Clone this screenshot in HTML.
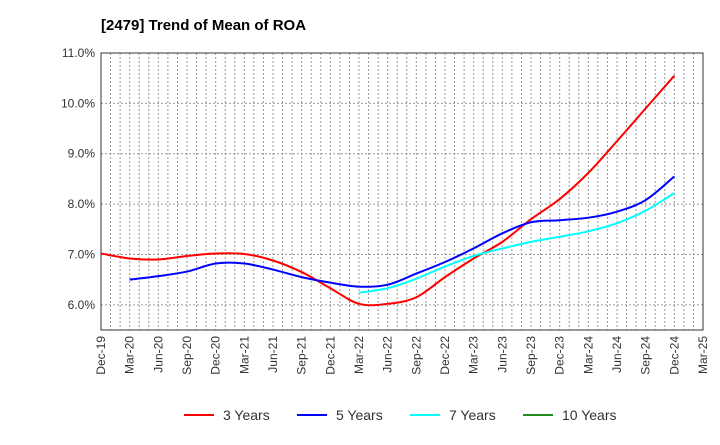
<!DOCTYPE html>
<html><head><meta charset="utf-8"><style>
body{margin:0;background:#fff;font-family:"Liberation Sans",sans-serif}
</style></head><body>
<svg id="c" width="720" height="440" xmlns="http://www.w3.org/2000/svg">
<text x="101" y="30" font-size="15" font-weight="bold" fill="#000">[2479]  Trend of Mean of ROA</text>
<g id="grid"></g>
<g id="axes"></g>
<g id="series"></g>
<g id="legend"></g>
</svg>
<script>
const xLabels=["Dec-19","Mar-20","Jun-20","Sep-20","Dec-20","Mar-21","Jun-21","Sep-21","Dec-21","Mar-22","Jun-22","Sep-22","Dec-22","Mar-23","Jun-23","Sep-23","Dec-23","Mar-24","Jun-24","Sep-24","Dec-24","Mar-25"];
const yTicks=[6,7,8,9,10,11];
const yTickLabels=["6.0%","7.0%","8.0%","9.0%","10.0%","11.0%"];
const seriesNames=["3 Years","5 Years","7 Years","10 Years"];
const seriesColors=["#ff0000","#0000ff","#00ffff","#228b22"];
const roa3=[7.02,6.92,6.90,6.97,7.02,7.01,6.88,6.65,6.33,6.02,6.02,6.15,6.55,6.92,7.25,7.70,8.10,8.62,9.25,9.90,10.55];
const roa5=[null,6.50,6.57,6.66,6.82,6.82,6.70,6.55,6.44,6.36,6.40,6.62,6.85,7.12,7.42,7.64,7.68,7.73,7.85,8.08,8.55];
const roa7=[null,null,null,null,null,null,null,null,null,6.24,6.33,6.52,6.76,6.97,7.12,7.25,7.35,7.46,7.62,7.87,8.22];
const roa10=[];
const L=101,R=703,T=53,B=330,yMin=5.5,yMax=11;
const xs=i=>L+(R-L)*i/(xLabels.length-1);
const ys=v=>B-(v-yMin)/(yMax-yMin)*(B-T);
const NS="http://www.w3.org/2000/svg";
function mk(tag,attrs,parent){const e=document.createElementNS(NS,tag);for(const k in attrs)e.setAttribute(k,attrs[k]);parent.appendChild(e);return e;}
const grid=document.getElementById('grid'),axes=document.getElementById('axes'),ser=document.getElementById('series'),leg=document.getElementById('legend');
const nMonths=(xLabels.length-1)*3;
for(let m=1;m<nMonths;m++){const x=L+(R-L)*m/nMonths;const l=mk('line',{x1:x,x2:x,y1:T,y2:B,stroke:'#999','stroke-dasharray':'2,2','stroke-width':1},grid);

}
yTicks.forEach((v,i)=>{const y=ys(v);const l=mk('line',{x1:L,x2:R,y1:y,y2:y,stroke:'#999','stroke-dasharray':'2,2','stroke-width':1},grid);


const t=mk('text',{x:L-6,y:y+4,'font-size':12,'text-anchor':'end',fill:'#333'},axes);t.textContent=yTickLabels[i];

});
const fr=mk('rect',{x:L,y:T,width:R-L,height:B-T,fill:'none',stroke:'#333','stroke-width':1},axes);


xLabels.forEach((s,i)=>{const x=xs(i);const t=mk('text',{x:x+4,y:B+6,'font-size':12,'text-anchor':'end',fill:'#333',transform:`rotate(-90 ${x+4} ${B+6})`},axes);t.textContent=s;

});
function path(arr){const p=[];arr.forEach((v,i)=>{if(v!=null)p.push([xs(i),ys(v)]);});if(p.length<2)return '';
let d=`M${p[0][0]},${p[0][1]}`;for(let i=0;i<p.length-1;i++){const p0=p[Math.max(0,i-1)],p1=p[i],p2=p[i+1],p3=p[Math.min(p.length-1,i+2)];
d+=` C${p1[0]+(p2[0]-p0[0])/6},${p1[1]+(p2[1]-p0[1])/6} ${p2[0]-(p3[0]-p1[0])/6},${p2[1]-(p3[1]-p1[1])/6} ${p2[0]},${p2[1]}`;}return d;}
[roa3,roa5,roa7,roa10].forEach((a,i)=>{const d=path(a);if(!d)return;const e=mk('path',{d:d,fill:'none',stroke:seriesColors[i],'stroke-width':2},ser);

});
const lx=[184,297,410,523];
seriesNames.forEach((n,i)=>{const g=mk('g',{},leg);


mk('line',{x1:lx[i],x2:lx[i]+30,y1:415,y2:415,stroke:seriesColors[i],'stroke-width':2},g);
const t=mk('text',{x:lx[i]+39,y:420,'font-size':14,fill:'#333'},g);t.textContent=n;});
</script>
</body></html>
